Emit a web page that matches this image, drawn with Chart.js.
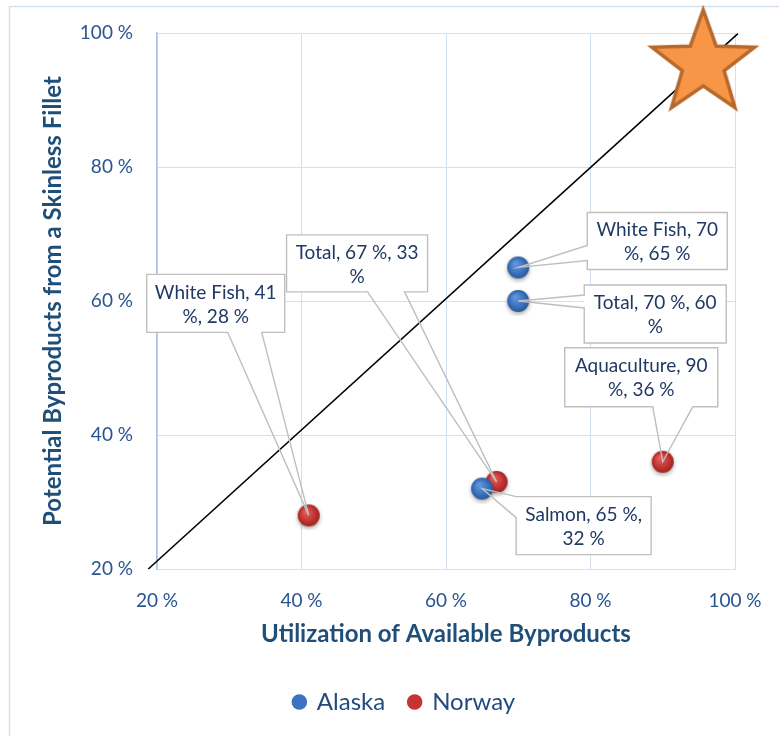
<!DOCTYPE html>
<html>
<head>
<meta charset="UTF-8" />
<title>Byproducts</title>
<script src="https://cdn.jsdelivr.net/npm/chart.js"></script>
<style>
  body { margin: 0; background: #fff; }
</style>
</head>
<body>
<canvas id="myChart" width="779" height="736"></canvas>
<script>
// series values (percent)
const alaskaNames = ['White Fish', 'Total', 'Salmon'];
const alaskaX = [70, 70, 65];
const alaskaY = [65, 60, 32];
const norwayNames = ['White Fish', 'Total', 'Aquaculture'];
const norwayX = [41, 67, 90];
const norwayY = [28, 33, 36];
// reference diagonal and target star
const parityX = [18.8, 100.4];
const parityY = [20, 99.9];
const starX = [95.6];
const starY = [95.4];
// axis ticks
const xTicks = [20, 40, 60, 80, 100];
const yTicks = [20, 40, 60, 80, 100];

// callout boxes: offset from the point, size, edge carrying the pointer,
// pointer base along that edge, and how many words go on the first line
const alaskaCallouts = [
  {dx: 69, dy: -55, w: 140, h: 57, side: 'left', a: 33, b: 48, split: 3},
  {dx: 66, dy: -16, w: 142, h: 58, side: 'left', a: 10, b: 23, split: 4},
  {dx: 34, dy: 8, w: 135, h: 58, side: 'left', a: 0, b: 21, split: 3}
];
const norwayCallouts = [
  {dx: -162, dy: -241, w: 138, h: 58, side: 'bottom', a: 81, b: 115, split: 3},
  {dx: -210, dy: -247, w: 141, h: 57, side: 'bottom', a: 81, b: 118, split: 4},
  {dx: -98, dy: -114, w: 153, h: 59, side: 'bottom', a: 88, b: 128, split: 2}
];

const tickColor = '#2a5490';
const titleColor = '#1f4e79';
const labelColor = '#1f3864';
const gridColor = '#d3e0f2';

Chart.defaults.font.family = 'Lato';

// shaded marker with a soft drop shadow
function makeDot(light, base, dark) {
    var c = document.createElement('canvas');
    c.width = 30; c.height = 30;
    var g = c.getContext('2d');
    g.shadowColor = 'rgba(0,0,0,0.35)';
    g.shadowBlur = 4;
    g.shadowOffsetY = 2;
    var grad = g.createRadialGradient(12, 11, 1, 15, 15, 11.5);
    grad.addColorStop(0, light);
    grad.addColorStop(0.6, base);
    grad.addColorStop(1, dark);
    g.fillStyle = grad;
    g.beginPath();
    g.arc(15, 15, 11, 0, Math.PI * 2);
    g.fill();
    return c;
}

// five point star
function makeStar(R, r) {
    var size = Math.ceil(2 * R + 12);
    var c = document.createElement('canvas');
    c.width = size; c.height = size;
    var g = c.getContext('2d');
    var m = size / 2;
    g.beginPath();
    for (var k = 0; k < 10; k++) {
        var ang = -Math.PI / 2 + k * Math.PI / 5;
        var rad = k % 2 ? r : R;
        g.lineTo(m + rad * Math.cos(ang), m + rad * Math.sin(ang));
    }
    g.closePath();
    g.fillStyle = '#f79646';
    g.fill();
    g.lineJoin = 'miter';
    g.lineWidth = 3.5;
    g.strokeStyle = '#b7692c';
    g.stroke();
    return c;
}

const blueDot = makeDot('#5f97de', '#3c72c0', '#2a5796');
const redDot = makeDot('#e2605a', '#c53432', '#952320');
const starImg = makeStar(54, 22);

function toPoints(xs, ys) {
    return xs.map(function (x, i) { return {x: x, y: ys[i]}; });
}

// light frame round the whole chart
const framePlugin = {
    id: 'frame',
    beforeDraw: function (chart) {
        var ctx = chart.ctx;
        ctx.save();
        ctx.strokeStyle = '#d5e0ef';
        ctx.lineWidth = 1.5;
        ctx.beginPath();
        ctx.moveTo(9.5, chart.height);
        ctx.lineTo(9.5, 6.5);
        ctx.lineTo(chart.width, 6.5);
        ctx.stroke();
        ctx.restore();
    }
};

// data labels drawn as callouts pointing at their markers
const calloutPlugin = {
    id: 'callouts',
    afterDatasetsDraw: function (chart) {
        var ctx = chart.ctx;
        var groups = [
            {ds: 1, names: alaskaNames, xs: alaskaX, ys: alaskaY, boxes: alaskaCallouts},
            {ds: 2, names: norwayNames, xs: norwayX, ys: norwayY, boxes: norwayCallouts}
        ];
        ctx.save();
        groups.forEach(function (grp) {
            var meta = chart.getDatasetMeta(grp.ds);
            grp.boxes.forEach(function (box, i) {
                var pt = meta.data[i];
                var x = pt.x + box.dx, y = pt.y + box.dy, w = box.w, h = box.h;
                ctx.fillStyle = '#fff';
                ctx.fillRect(x, y, w, h);
                ctx.beginPath();
                if (box.side === 'left') {
                    ctx.moveTo(x, y);
                    ctx.lineTo(x + w, y);
                    ctx.lineTo(x + w, y + h);
                    ctx.lineTo(x, y + h);
                    ctx.lineTo(x, y + box.b);
                    ctx.lineTo(pt.x, pt.y);
                    ctx.lineTo(x, y + box.a);
                } else {
                    ctx.moveTo(x, y);
                    ctx.lineTo(x + w, y);
                    ctx.lineTo(x + w, y + h);
                    ctx.lineTo(x + box.b, y + h);
                    ctx.lineTo(pt.x, pt.y);
                    ctx.lineTo(x + box.a, y + h);
                    ctx.lineTo(x, y + h);
                }
                ctx.closePath();
                ctx.strokeStyle = '#bfbfbf';
                ctx.lineWidth = 1.4;
                ctx.stroke();

                var words = (grp.names[i] + ', ' + grp.xs[i] + ' %, ' + grp.ys[i] + ' %').split(' ');
                var line1 = words.slice(0, box.split).join(' ');
                var line2 = words.slice(box.split).join(' ');
                ctx.fillStyle = labelColor;
                ctx.font = '19px Lato';
                ctx.textAlign = 'center';
                ctx.textBaseline = 'middle';
                ctx.fillText(line1, x + w / 2, y + h / 2 - 11);
                ctx.fillText(line2, x + w / 2, y + h / 2 + 13);
            });
        });
        ctx.restore();
    }
};

var ctx = document.getElementById('myChart').getContext('2d');
var myChart = new Chart(ctx, {
    type: 'scatter',
    data: {
        datasets: [{
            label: 'Parity',
            data: toPoints(parityX, parityY),
            showLine: true,
            borderColor: '#000',
            borderWidth: 1.6,
            pointRadius: 0,
            clip: false,
            order: 3
        }, {
            label: 'Alaska',
            data: toPoints(alaskaX, alaskaY),
            pointStyle: blueDot,
            pointRadius: 10,
            backgroundColor: '#3c72c0',
            order: 1
        }, {
            label: 'Norway',
            data: toPoints(norwayX, norwayY),
            pointStyle: redDot,
            pointRadius: 10,
            backgroundColor: '#c53432',
            order: 2
        }, {
            label: 'Target',
            data: toPoints(starX, starY),
            pointStyle: starImg,
            pointRadius: 50,
            clip: false,
            order: 0
        }]
    },
    options: {
        responsive: false,
        animation: false,
        events: [],
        layout: {
            autoPadding: false,
            padding: {left: 74, right: 44, top: 33, bottom: 12}
        },
        scales: {
            x: {
                type: 'linear',
                min: 20,
                max: 100,
                afterBuildTicks: function (s) { s.ticks = xTicks.map(function (v) { return {value: v}; }); },
                afterFit: function (s) {
                    s.height = 97;
                    s.paddingLeft = 0;
                    s.paddingRight = 0;
                },
                ticks: {
                    padding: 20,
                    color: tickColor,
                    font: {size: 19},
                    callback: function (v) { return v + ' %'; }
                },
                grid: {color: gridColor, drawTicks: false},
                border: {color: gridColor},
                title: {
                    display: true,
                    text: 'Utilization of Available Byproducts',
                    color: titleColor,
                    font: {size: 24, weight: 'bold'},
                    padding: {top: 0, bottom: 17}
                }
            },
            y: {
                type: 'linear',
                min: 20,
                max: 100,
                afterBuildTicks: function (s) { s.ticks = yTicks.map(function (v) { return {value: v}; }); },
                afterFit: function (s) {
                    s.width = 83;
                    s.paddingTop = 0;
                    s.paddingBottom = 0;
                },
                ticks: {
                    padding: 24,
                    color: tickColor,
                    font: {size: 19},
                    callback: function (v) { return v + ' %'; }
                },
                grid: {color: gridColor, drawTicks: false},
                border: {color: '#a9c3e8', width: 1.5},
                title: {
                    display: true,
                    text: 'Potential Byproducts from a Skinless Fillet',
                    color: titleColor,
                    font: {size: 24, weight: 'bold'},
                    padding: {top: -35, bottom: 0}
                }
            }
        },
        plugins: {
            tooltip: {enabled: false},
            legend: {
                position: 'bottom',
                labels: {
                    usePointStyle: true,
                    boxWidth: 11,
                    boxHeight: 11,
                    padding: 24,
                    font: {size: 24},
                    generateLabels: function (chart) {
                        return [1, 2].map(function (i) {
                            var ds = chart.data.datasets[i];
                            return {
                                text: ds.label,
                                fillStyle: ds.backgroundColor,
                                strokeStyle: ds.backgroundColor,
                                lineWidth: 0,
                                pointStyle: 'circle',
                                fontColor: '#234b7f',
                                hidden: false,
                                datasetIndex: i
                            };
                        });
                    }
                }
            }
        }
    },
    plugins: [framePlugin, calloutPlugin]
});
</script>
</body>
</html>
